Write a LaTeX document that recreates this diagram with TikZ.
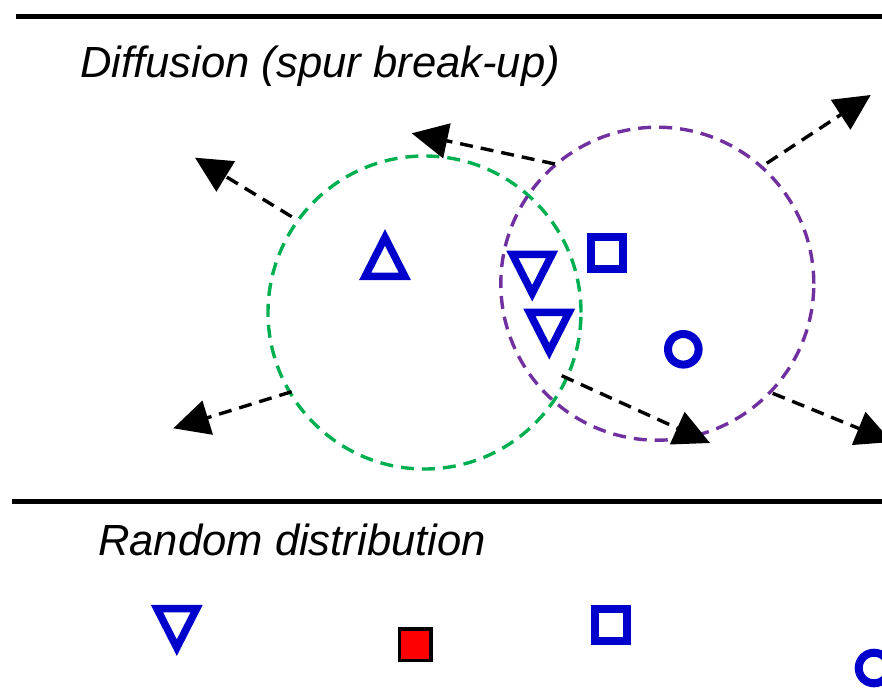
\documentclass[tikz,border=0pt]{standalone}
\usepackage{fontspec}
\setsansfont{Liberation Sans}
\usetikzlibrary{arrows.meta}
\definecolor{symblue}{RGB}{0,0,204}
\definecolor{ringgreen}{RGB}{0,176,80}
\definecolor{ringpurple}{RGB}{112,48,160}
\definecolor{fillred}{RGB}{255,0,0}
\tikzset{
  rule/.style      = {draw=black, line width=5pt},
  heading/.style   = {font=\fontsize{43.6}{50}\selectfont\sffamily\itshape, anchor=base west, inner sep=0pt},
  ring/.style      = {circle, line width=3.4pt, dash pattern=on 13pt off 8pt, inner sep=0pt, minimum size=313pt},
  jump/.style      = {draw=black, line width=3.4pt, dash pattern=on 13pt off 8pt, -{Triangle[length=36pt,width=35pt]}},
  trimark/.style   = {draw=symblue, line width=7.5pt, line join=miter},
  sqmark/.style    = {draw=symblue, line width=8pt, minimum size=32pt, inner sep=0pt},
  ringmark/.style  = {circle, draw=symblue, line width=8pt, minimum size=30.6pt, inner sep=0pt},
  redmark/.style   = {draw=black, fill=fillred, line width=3.3pt, minimum size=31.7pt, inner sep=0pt},
  uptri/.pic       = {\draw[trimark] (0,-19.6) -- (19.8,19.3) -- (-19.8,19.3) -- cycle;},
  downtri/.pic     = {\draw[trimark] (0,19.6) -- (19.8,-19.3) -- (-19.8,-19.3) -- cycle;},
}

\begin{document}
\begin{tikzpicture}[x=1pt,y=-1pt]
  \useasboundingbox (0,0) rectangle (882,687);

  % ----- separators and headings -----
  \coordinate (topL) at (16,16.3);
  \coordinate (topR) at (882,16.3);
  \coordinate (midL) at (12,501);
  \coordinate (midR) at (882,501);
  \draw[rule] (topL) -- (topR);
  \draw[rule] (midL) -- (midR);
  \node[heading] (diffhdr) at (80,77.3) {Diffusion (spur break-up)};
  \node[heading] (randhdr) at (98,555) {Random distribution};

  % ----- spurs -----
  \node[ring, draw=ringgreen] (greenspur) at (424.5,312.5) {};
  \node[ring, draw=ringpurple] (purplespur) at (657.3,283.7) {};

  % ----- diffusion arrows -----
  \foreach \n/\s/\t in {a/{291.7,216.7}/{195,157.7},
                        b/{555,164}/{411.7,133.3},
                        c/{766.7,163.3}/{870.7,95},
                        d/{291.7,391.7}/{173.3,428.3},
                        e/{561.7,375.7}/{710,443},
                        f/{772.7,393.3}/{892,442}}
  {
    \coordinate (\n0) at (\s);
    \coordinate (\n1) at (\t);
    \draw[jump] (\n0) -- (\n1);
  }

  % ----- species in the spurs -----
  \pic (upA) at (385,257) {uptri};
  \pic (dnA) at (532.2,273.7) {downtri};
  \pic (dnB) at (549.2,331.7) {downtri};
  \node[sqmark] (sqA) at (607.3,253) {};
  \node[ringmark] (ciA) at (683.3,349.3) {};

  % ----- random distribution -----
  \pic (dnC) at (176.8,628) {downtri};
  \node[redmark] (sqR) at (415,644.8) {};
  \node[sqmark] (sqB) at (610.5,624.7) {};
  \node[ringmark] (ciB) at (874,668) {};
\end{tikzpicture}
\end{document}
